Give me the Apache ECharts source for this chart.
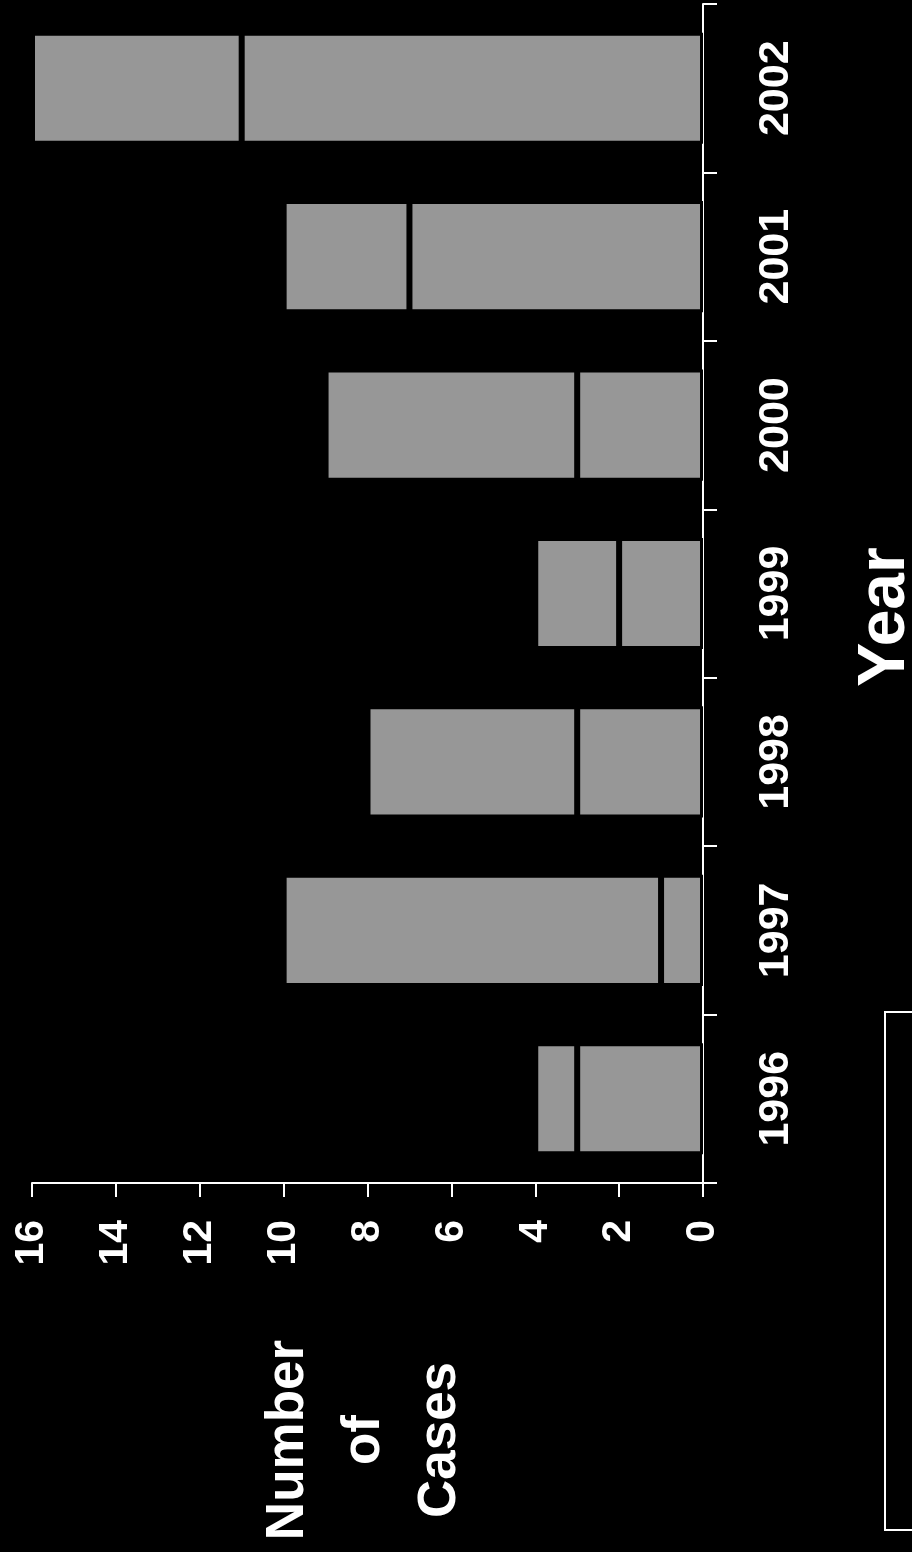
<!DOCTYPE html>
<html>
<head>
<meta charset="utf-8">
<script src="https://cdn.jsdelivr.net/npm/echarts@6/dist/echarts.min.js"></script>
<style>
html,body{margin:0;padding:0;background:#000;}
#chart{width:912px;height:1552px;}
</style>
</head>
<body>
<div id="chart"></div>
<script>
const years = ['1996', '1997', '1998', '1999', '2000', '2001', '2002'];
const lowerSegment = [3, 1, 3, 2, 3, 7, 11];
const upperSegment = [1, 9, 5, 2, 6, 3, 5];
const valueMin = 0;
const valueMax = 16;
const valueStep = 2;
const categoryTitle = 'Year';
const valueTitle = 'Number\nof\nCases';

const sans = "'Liberation Sans', Arial, sans-serif";
const barColor = '#979797';

const chart = echarts.init(document.getElementById('chart'));
chart.setOption({
  backgroundColor: '#000000',
  animation: false,
  grid: { left: 32, right: 209, top: 4, bottom: 369, containLabel: false },
  xAxis: {
    type: 'value',
    inverse: true,
    position: 'bottom',
    min: valueMin, max: valueMax, interval: valueStep,
    axisLine: { show: true, lineStyle: { color: '#ffffff', width: 2 } },
    axisTick: { show: true, inside: false, length: 14, lineStyle: { color: '#ffffff', width: 2 } },
    splitLine: { show: false },
    axisLabel: { color: '#ffffff', rotate: 90, margin: 37, fontFamily: sans, fontWeight: 'bold', fontSize: 41 }
  },
  yAxis: {
    type: 'category',
    position: 'right',
    data: years,
    axisLine: { show: true, lineStyle: { color: '#ffffff', width: 2 } },
    axisTick: { show: true, inside: false, length: 14, alignWithLabel: false, lineStyle: { color: '#ffffff', width: 2 } },
    splitLine: { show: false },
    axisLabel: { color: '#ffffff', rotate: 90, margin: 52, fontFamily: sans, fontWeight: 'bold', fontSize: 43 }
  },
  series: [
    {
      name: 'Lower', type: 'bar', stack: 'cases', barWidth: '66%',
      data: lowerSegment,
      itemStyle: { color: barColor, borderColor: '#000000', borderWidth: 3 }
    },
    {
      name: 'Upper', type: 'bar', stack: 'cases', barWidth: '66%',
      data: upperSegment,
      itemStyle: { color: barColor, borderColor: '#000000', borderWidth: 3 }
    }
  ],
  graphic: [
    {
      type: 'text', x: 886, y: 617, rotation: Math.PI / 2,
      style: { text: categoryTitle, fill: '#ffffff', font: 'bold 66px ' + sans,
        textAlign: 'center', textVerticalAlign: 'middle', align: 'center', verticalAlign: 'middle' }
    },
    {
      type: 'text', x: 364, y: 1440, rotation: Math.PI / 2,
      style: { text: valueTitle, fill: '#ffffff', font: 'bold 53px ' + sans, lineHeight: 76,
        textAlign: 'center', textVerticalAlign: 'middle', align: 'center', verticalAlign: 'middle' }
    },
    {
      type: 'rect', shape: { x: 885, y: 1012, width: 60, height: 518 },
      style: { fill: 'transparent', stroke: '#ffffff', lineWidth: 2 }
    }
  ]
});
</script>
</body>
</html>
